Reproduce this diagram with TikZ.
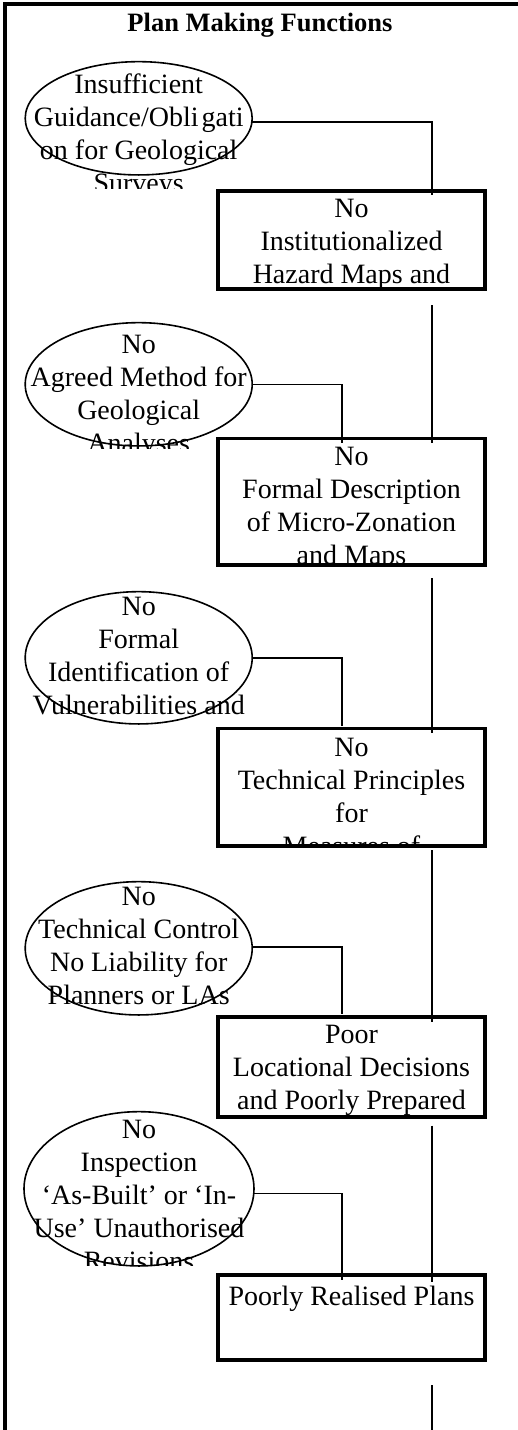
\documentclass[tikz,border=0pt]{standalone}
\usepackage{fontspec}
\setmainfont{Liberation Serif}
\usetikzlibrary{shapes.geometric}

% centred lines, baseline of the block = baseline of its first line
\newcommand\mlines[1]{\vtop{\halign{\hfil##\hfil\cr#1\crcr}}}

\begin{document}
\begin{tikzpicture}[x=1pt,y=-1pt,
  frameline/.style={line width=4pt},
  cause/.style={draw, ellipse, line width=1.6pt, inner sep=0pt, outer sep=0pt},
  stage/.style={draw, rectangle, line width=3.6pt, inner sep=0pt, outer sep=0pt, minimum width=267pt},
  conn/.style={line width=1.6pt},
  textblock/.style={anchor=base, inner sep=0pt, outer sep=0pt, font=\fontsize{28}{33}\selectfont},
]
\useasboundingbox (0,0) rectangle (517,1430);

% outer frame (left and top edges)
\draw[frameline] (5,1440) -- (5,4) -- (530,4);

% heading
\node[anchor=base, inner sep=0pt, font=\fontsize{26.5}{30}\bfseries\selectfont] (title) at (260,31) {Plan Making Functions};

% ---------- texts, clipped to their frames ----------
\begin{scope}\clip (20,50) rectangle (258,188);
  \node[textblock] (t1) at (138.7,93) {\mlines{Insufficient\cr Guidance/Obli\kern3pt gati\cr on for Geological\cr Surveys}};
\end{scope}
\begin{scope}\clip (20,310) rectangle (258,448);
  \node[textblock] (t2) at (138.7,353) {\mlines{No\cr Agreed Method for\cr Geological\cr Analyses}};
\end{scope}
\begin{scope}\clip (20,580) rectangle (258,725);
  \node[textblock] (t3) at (138.7,615) {\mlines{No\cr Formal\cr Identification of\cr Vulnerabilities and}};
\end{scope}
\begin{scope}\clip (20,870) rectangle (258,1018);
  \node[textblock] (t4) at (138.7,905) {\mlines{No\cr Technical Control\cr No Liability for\cr Planners or LAs}};
\end{scope}
\begin{scope}\clip (20,1100) rectangle (258,1265);
  \node[textblock] (t5) at (139,1138) {\mlines{No\cr Inspection\cr ‘As-Built’ or ‘In-\cr Use’ Unauthorised\cr Revisions}};
\end{scope}

\begin{scope}\clip (220,193) rectangle (483,287);
  \node[textblock] (u1) at (351.5,217) {\mlines{No\cr Institutionalized\cr Hazard Maps and}};
\end{scope}
\begin{scope}\clip (220,440) rectangle (483,563);
  \node[textblock] (u2) at (351.5,465) {\mlines{No\cr Formal Description\cr of Micro-Zonation\cr and Maps}};
\end{scope}
\begin{scope}\clip (220,730) rectangle (483,844);
  \node[textblock] (u3) at (351.5,756) {\mlines{No\cr Technical Principles\cr for\cr Measures of}};
\end{scope}
\begin{scope}\clip (220,1018) rectangle (483,1115);
  \node[textblock] (u4) at (351.5,1043) {\mlines{Poor\cr Locational Decisions\cr and Poorly Prepared}};
\end{scope}
\begin{scope}\clip (220,1277) rectangle (483,1358);
  \node[textblock] (u5) at (351.5,1305) {\mlines{Poorly Realised Plans}};
\end{scope}

% ---------- causes (ellipses) ----------
\node[cause, minimum width=227pt, minimum height=113.3pt] (e1) at (138.7,118.3) {};
\node[cause, minimum width=227pt, minimum height=123.3pt] (e2) at (138.7,384.3) {};
\node[cause, minimum width=227pt, minimum height=132.3pt] (e3) at (138.7,657.8) {};
\node[cause, minimum width=227pt, minimum height=133.3pt] (e4) at (138.7,948.3) {};
\node[cause, minimum width=230pt, minimum height=154.3pt] (e5) at (139,1188.8) {};

% ---------- stages (boxes) ----------
\node[stage, minimum height=98pt]    (b1) at (351.5,240) {};
\node[stage, minimum height=126.5pt] (b2) at (351.5,501.75) {};
\node[stage, minimum height=117.5pt] (b3) at (351.5,787.25) {};
\node[stage, minimum height=100pt]   (b4) at (351.5,1066.7) {};
\node[stage, minimum height=85pt]    (b5) at (351.5,1317.5) {};

\coordinate (out) at (432,1432);

% ---------- connectors ----------
\draw[conn] ([yshift=-3.4pt]e1.east) -| ([xshift=80.5pt,yshift=-4pt]b1.north);
\draw[conn] (e2.east) -| ([xshift=-9.5pt,yshift=-4.5pt]b2.north);
\draw[conn] (e3.east) -| ([xshift=-9.5pt,yshift=2.5pt]b3.north);
\draw[conn] ([yshift=1.6pt]e4.east) -| ([xshift=-9.5pt,yshift=2.7pt]b4.north);
\draw[conn] ([yshift=-4.5pt]e5.east) -| ([xshift=-9.5pt,yshift=-5pt]b5.north);

\draw[conn] ([xshift=80.5pt,yshift=-16pt]b1.south) -- ([xshift=80.5pt,yshift=-4.5pt]b2.north);
\draw[conn] ([xshift=80.5pt,yshift=-13pt]b2.south) -- ([xshift=80.5pt,yshift=-4.5pt]b3.north);
\draw[conn] ([xshift=80.5pt,yshift=-4pt]b3.south) -- ([xshift=80.5pt,yshift=-5pt]b4.north);
\draw[conn] ([xshift=80.5pt,yshift=-9pt]b4.south) -- ([xshift=80.5pt,yshift=-7pt]b5.north);
\draw[conn] ([xshift=80.5pt,yshift=-25pt]b5.south) -- (out);
\end{tikzpicture}
\end{document}
